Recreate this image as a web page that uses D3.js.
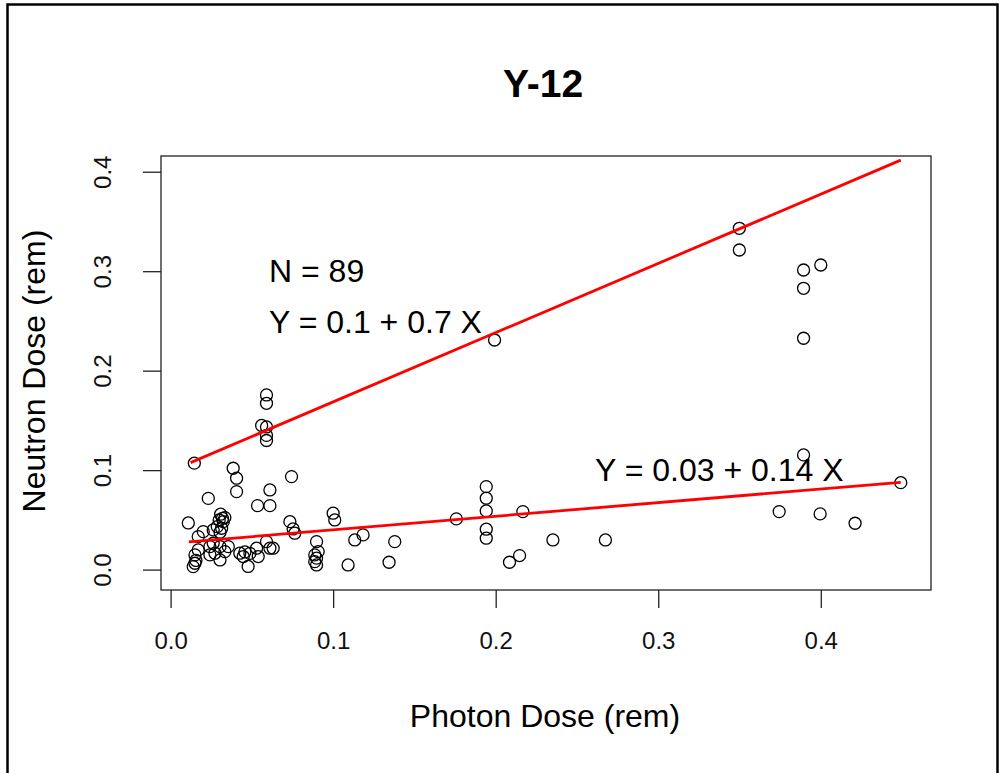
<!DOCTYPE html>
<html>
<head>
<meta charset="utf-8">
<script src="https://cdn.jsdelivr.net/npm/d3@7"></script>
<style>
  html, body { margin: 0; padding: 0; background: #fff; }
  svg { display: block; font-family: "Liberation Sans", Arial, sans-serif; }
</style>
</head>
<body>
<svg id="chart" width="1000" height="773"></svg>
<script>
// ---- data ----
const photon = [
  0.0146, 0.0590, 0.0590, 0.0560, 0.0590, 0.0590, 0.0590, 0.0385, 0.0406, 0.0406,
  0.0232, 0.0744, 0.0611, 0.0535, 0.0611, 0.0109, 0.0734, 0.0754, 0.1000, 0.1010,
  0.0898, 0.0908, 0.0887, 0.0898, 0.0887, 0.0898, 0.1133, 0.1184, 0.1092, 0.1379,
  0.1344, 0.1758, 0.1942, 0.1942, 0.1942, 0.1942, 0.1942, 0.2167, 0.2085, 0.2147,
  0.2352, 0.2675, 0.1993, 0.3499, 0.3499, 0.3894, 0.4000, 0.3894, 0.3894, 0.3894,
  0.4492, 0.3744, 0.3996, 0.4211, 0.0308, 0.0334, 0.0299, 0.0324, 0.0287, 0.0314,
  0.0304, 0.0262, 0.0201, 0.0170, 0.0242, 0.0262, 0.0304, 0.0355, 0.0334, 0.0273,
  0.0304, 0.0170, 0.0150, 0.0150, 0.0139, 0.0426, 0.0447, 0.0477, 0.0457, 0.0488,
  0.0529, 0.0539, 0.0590, 0.0611, 0.0631, 0.0764, 0.0242, 0.0319, 0.0156
];
const neutron = [
  0.1070, 0.1756, 0.1672, 0.1449, 0.1434, 0.1349, 0.1298, 0.1019, 0.0919, 0.0784,
  0.0716, 0.0935, 0.0801, 0.0643, 0.0643, 0.0469, 0.0482, 0.0409, 0.0567, 0.0499,
  0.0281, 0.0181, 0.0148, 0.0115, 0.0080, 0.0047, 0.0298, 0.0349, 0.0047, 0.0281,
  0.0074, 0.0510, 0.0834, 0.0718, 0.0590, 0.0406, 0.0316, 0.0583, 0.0074, 0.0141,
  0.0298, 0.0298, 0.2308, 0.3431, 0.3213, 0.3012, 0.3062, 0.2828, 0.2326, 0.1153,
  0.0874, 0.0583, 0.0560, 0.0466, 0.0557, 0.0523, 0.0499, 0.0482, 0.0432, 0.0416,
  0.0376, 0.0399, 0.0382, 0.0332, 0.0231, 0.0265, 0.0231, 0.0231, 0.0181, 0.0165,
  0.0097, 0.0198, 0.0148, 0.0064, 0.0030, 0.0165, 0.0131, 0.0032, 0.0178, 0.0163,
  0.0215, 0.0131, 0.0281, 0.0215, 0.0215, 0.0366, 0.0148, 0.0515, 0.0092
];

// regression fits
const fitLabels    = ["Y = 0.1 + 0.7 X", "Y = 0.03 + 0.14 X"];
const fitIntercept = [0.099, 0.0263];
const fitSlope     = [0.696, 0.1368];
const fitXStart    = [0.0123, 0.0112];
const fitXEnd      = [0.4492, 0.4492];

const nLabel = "N = 89";
const xTicks = [0.0, 0.1, 0.2, 0.3, 0.4];
const yTicks = [0.0, 0.1, 0.2, 0.3, 0.4];
const titleText = "Y-12";
const xTitle = "Photon Dose (rem)";
const yTitle = "Neutron Dose (rem)";

// ---- layout ----
const svg = d3.select("#chart");
const box = { left: 161, right: 931, top: 156, bottom: 590 };

const x = d3.scaleLinear().domain([-0.0059, 0.4678]).range([box.left, box.right]);
const y = d3.scaleLinear().domain([-0.0205, 0.4158]).range([box.bottom, box.top]);

// outer frame
svg.append("rect")
  .attr("x", 7.5).attr("y", 4.5).attr("width", 990).attr("height", 820)
  .attr("fill", "none").attr("stroke", "#000").attr("stroke-width", 2.5);

// title
svg.append("text")
  .attr("x", 543).attr("y", 97)
  .attr("text-anchor", "middle")
  .attr("font-size", 39).attr("font-weight", "bold")
  .text(titleText);

// axes
const xAxis = d3.axisBottom(x).tickValues(xTicks).tickSize(18).tickFormat(d3.format(".1f"));
const gx = svg.append("g").attr("transform", `translate(0,${box.bottom})`).call(xAxis);
gx.select(".domain").remove();
gx.selectAll(".tick line").attr("stroke", "#222").attr("stroke-width", 1.3);
gx.selectAll(".tick text")
  .attr("font-size", 24).attr("fill", "#111")
  .attr("font-family", "Liberation Sans, Arial, sans-serif")
  .attr("y", 59).attr("dy", 0);

const yAxis = d3.axisLeft(y).tickValues(yTicks).tickSize(18).tickFormat(d3.format(".1f"));
const gy = svg.append("g").attr("transform", `translate(${box.left},0)`).call(yAxis);
gy.select(".domain").remove();
gy.selectAll(".tick line").attr("stroke", "#222").attr("stroke-width", 1.3);
gy.selectAll(".tick text")
  .attr("font-size", 24).attr("fill", "#111")
  .attr("font-family", "Liberation Sans, Arial, sans-serif")
  .attr("x", null).attr("dy", 0)
  .attr("text-anchor", "middle")
  .attr("transform", "translate(-50,0) rotate(-90)");

// plot box
svg.append("rect")
  .attr("x", box.left).attr("y", box.top)
  .attr("width", box.right - box.left).attr("height", box.bottom - box.top)
  .attr("fill", "none").attr("stroke", "#222").attr("stroke-width", 1.3);

// axis titles
svg.append("text")
  .attr("x", 545).attr("y", 727)
  .attr("text-anchor", "middle").attr("font-size", 32)
  .text(xTitle);
svg.append("text")
  .attr("transform", `translate(45,371) rotate(-90)`)
  .attr("text-anchor", "middle").attr("font-size", 32)
  .text(yTitle);

// points
const pts = photon.map((p, i) => ({ p, n: neutron[i] }));
svg.append("g").selectAll("circle").data(pts).join("circle")
  .attr("cx", d => x(d.p)).attr("cy", d => y(d.n)).attr("r", 6)
  .attr("fill", "none").attr("stroke", "#000").attr("stroke-width", 1.3);

// fit lines
const fits = fitIntercept.map((a, i) => ({ a, b: fitSlope[i], x0: fitXStart[i], x1: fitXEnd[i] }));
svg.append("g").selectAll("line").data(fits).join("line")
  .attr("x1", d => x(d.x0)).attr("y1", d => y(d.a + d.b * d.x0))
  .attr("x2", d => x(d.x1)).attr("y2", d => y(d.a + d.b * d.x1))
  .attr("stroke", "#ff0000").attr("stroke-width", 2.8);

// annotations
svg.append("text").attr("x", 269).attr("y", 282).attr("font-size", 32).text(nLabel);
svg.append("text").attr("x", 269).attr("y", 333).attr("font-size", 32).text(fitLabels[0]);
svg.append("text").attr("x", 595).attr("y", 481).attr("font-size", 32).text(fitLabels[1]);
</script>
</body>
</html>
